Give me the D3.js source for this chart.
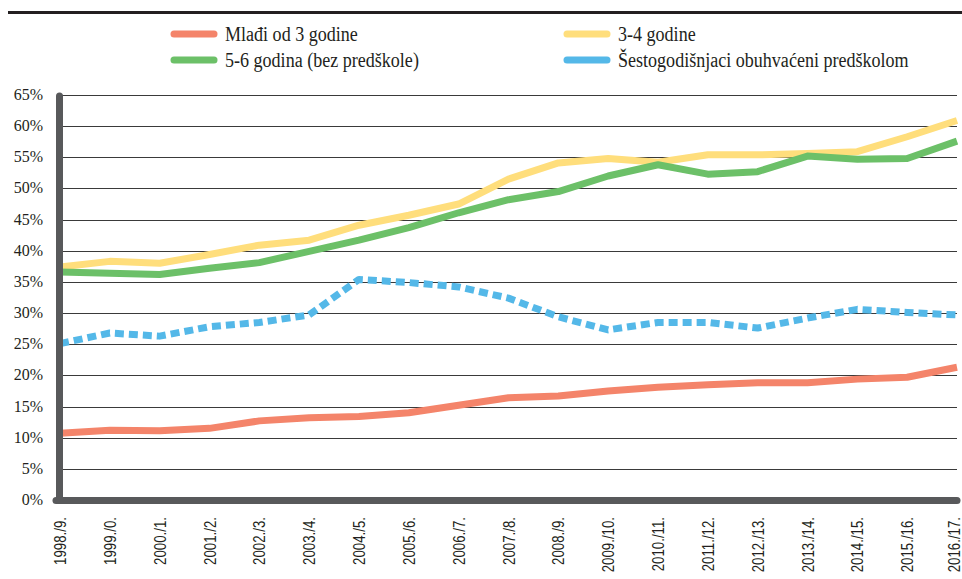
<!DOCTYPE html>
<html><head><meta charset="utf-8">
<script src="https://cdn.jsdelivr.net/npm/d3@7"></script>
<style>body{margin:0;background:#fff}svg{display:block}</style>
</head><body>
<svg id="c" width="962" height="579"></svg>
<script>
const categories = ["1998./9.","1999./0.","2000./1.","2001./2.","2002./3.","2003./4.","2004./5.","2005./6.","2006./7.","2007./8.","2008./9.","2009./10.","2010./11.","2011./12.","2012./13.","2013./14.","2014./15.","2015./16.","2016./17."];
const mladji = [10.7,11.2,11.1,11.5,12.7,13.2,13.4,14.0,15.2,16.4,16.7,17.5,18.1,18.5,18.8,18.8,19.4,19.7,21.3];
const godine34 = [37.4,38.3,38.0,39.4,40.9,41.7,44.1,45.7,47.5,51.5,54.1,54.8,54.2,55.4,55.4,55.6,55.9,58.3,60.9];
const godine56 = [36.6,36.4,36.2,37.2,38.1,39.9,41.7,43.7,46.1,48.2,49.5,52.0,53.8,52.3,52.7,55.2,54.7,54.8,57.6];
const sestogod = [25.1,26.8,26.3,27.8,28.5,29.7,35.4,34.9,34.2,32.4,29.4,27.3,28.5,28.5,27.6,29.2,30.6,30.1,29.7];
const yTicks = [0,5,10,15,20,25,30,35,40,45,50,55,60,65];
const series = [
  {name:"Mlađi od 3 godine", values:mladji, color:"#F4846A", dash:null},
  {name:"3-4 godine", values:godine34, color:"#FFDE7C", dash:null},
  {name:"5-6 godina (bez predškole)", values:godine56, color:"#6CC068", dash:null},
  {name:"Šestogodišnjaci obuhvaćeni predškolom", values:sestogod, color:"#54B8E8", dash:"9,5"}
];
const legendOrder = [
  {s:0, x:171, y:34},{s:1, x:564, y:34},{s:2, x:171, y:60},{s:3, x:564, y:60}
];

const svg = d3.select("#c");
const x = d3.scalePoint().domain(categories).range([60, 957]);
const y = d3.scaleLinear().domain([0, 65]).range([500, 95]);

// top rule
svg.append("line").attr("x1",8).attr("x2",962).attr("y1",12.5).attr("y2",12.5)
  .attr("stroke","#231F20").attr("stroke-width",3);

// legend
const lg = svg.append("g");
legendOrder.forEach(l=>{
  const s = series[l.s];
  lg.append("line").attr("x1",l.x+3).attr("x2",l.x+43).attr("y1",l.y).attr("y2",l.y)
    .attr("stroke",s.color).attr("stroke-width",7).attr("stroke-linecap","round");
  lg.append("text").attr("transform",`translate(${l.x+54},${l.y+7}) scale(0.95,1.05)`).text(s.name)
    .attr("font-family","Liberation Serif, serif").attr("font-size",19).attr("fill","#231F20");
});

// gridlines
svg.append("g").selectAll("line").data(yTicks.filter(d=>d>0)).join("line")
  .attr("x1",62).attr("x2",957).attr("y1",d=>Math.round(y(d))+0.5).attr("y2",d=>Math.round(y(d))+0.5)
  .attr("stroke","#3a3a3a").attr("stroke-width",1.2);

// y labels
svg.append("g").selectAll("text").data(yTicks).join("text")
  .attr("x",43).attr("y",d=>y(d)+5).attr("text-anchor","end")
  .attr("font-family","Liberation Serif, serif").attr("font-size",16).attr("fill","#231F20")
  .text(d=>d+"%");

// lines
const line = d3.line().x((d,i)=>x(categories[i])).y(d=>y(d));
const drawOrder = [0,3,1,2];
drawOrder.forEach(k=>{
  const s = series[k];
  svg.append("path").datum(s.values).attr("d",line).attr("fill","none")
    .attr("stroke",s.color).attr("stroke-width",7)
    .attr("stroke-linejoin","round")
    .attr("stroke-dasharray",s.dash);
});

// axes bars
svg.append("line").attr("x1",59.5).attr("x2",59.5).attr("y1",y(65)+1).attr("y2",y(0))
  .attr("stroke","#58595B").attr("stroke-width",7).attr("stroke-linecap","round");
svg.append("line").attr("x1",56).attr("x2",957).attr("y1",y(0)+0.5).attr("y2",y(0)+0.5)
  .attr("stroke","#58595B").attr("stroke-width",7).attr("stroke-linecap","round");

// x labels
svg.append("g").selectAll("text").data(categories).join("text")
  .attr("transform",d=>`translate(${Math.min(x(d)+6, 960)},517) rotate(-90) scale(0.78,1)`)
  .attr("text-anchor","end")
  .attr("font-family","Liberation Sans, sans-serif")
  .attr("font-size",17).attr("fill","#231F20")
  .text(d=>d);
</script>
</body></html>
